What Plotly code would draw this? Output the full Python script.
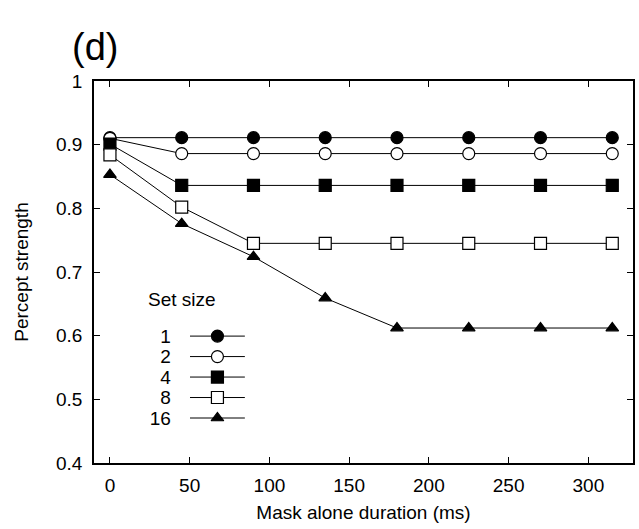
import plotly.graph_objects as go

durations = [0, 45, 90, 135, 180, 225, 270, 315]
set_sizes = ["1", "2", "4", "8", "16"]
strength_1 = [0.911, 0.911, 0.911, 0.911, 0.911, 0.911, 0.911, 0.911]
strength_2 = [0.910, 0.886, 0.886, 0.886, 0.886, 0.886, 0.886, 0.886]
strength_4 = [0.901, 0.836, 0.836, 0.836, 0.836, 0.836, 0.836, 0.836]
strength_8 = [0.884, 0.802, 0.745, 0.745, 0.745, 0.745, 0.745, 0.745]
strength_16 = [0.853, 0.776, 0.724, 0.659, 0.612, 0.612, 0.612, 0.612]

series = [strength_1, strength_2, strength_4, strength_8, strength_16]
styles = [
    dict(symbol="circle", size=12, color="black"),
    dict(symbol="circle", size=12, color="white"),
    dict(symbol="square", size=12, color="black"),
    dict(symbol="square", size=12, color="white"),
    dict(symbol="triangle-up", size=11, color="black"),
]

FONT = "Liberation Sans, Arial, Helvetica, sans-serif"
fig = go.Figure()

for name, vals, st in zip(set_sizes, series, styles):
    fig.add_trace(go.Scatter(
        x=durations, y=vals, mode="lines+markers", name=name,
        line=dict(color="black", width=1),
        marker=dict(symbol=st["symbol"], size=st["size"], color=st["color"],
                    line=dict(color="black", width=1.2)),
        cliponaxis=False, showlegend=False,
    ))

# legend drawn as a small inset subplot
for name, st in zip(set_sizes, styles):
    fig.add_trace(go.Scatter(
        x=[0, 1], y=[name, name], mode="lines", xaxis="x2", yaxis="y2",
        line=dict(color="black", width=1), showlegend=False, hoverinfo="skip",
    ))
    fig.add_trace(go.Scatter(
        x=[0.5], y=[name], mode="markers", xaxis="x2", yaxis="y2",
        marker=dict(symbol=st["symbol"], size=st["size"], color=st["color"],
                    line=dict(color="black", width=1.2)),
        cliponaxis=False, showlegend=False,
    ))

axis_common = dict(
    showline=True, linecolor="black", linewidth=1.5, mirror="ticks",
    ticks="inside", ticklen=6, tickcolor="black", tickwidth=1,
    showgrid=False, zeroline=False,
    tickfont=dict(family=FONT, size=19, color="black"),
)

fig.update_layout(
    width=639, height=529,
    margin=dict(l=94, r=6, t=81, b=66, autoexpand=False),
    paper_bgcolor="white", plot_bgcolor="white",
    font=dict(family=FONT, size=19, color="black"),
    xaxis=dict(
        range=[-10, 328], tickvals=[0, 50, 100, 150, 200, 250, 300],
        ticklabelstandoff=4,
        title=dict(text="Mask alone duration (ms)", standoff=11,
                   font=dict(family=FONT, size=19)),
        **axis_common,
    ),
    yaxis=dict(
        range=[0.4, 1.0], tickvals=[0.4, 0.5, 0.6, 0.7, 0.8, 0.9, 1.0],
        ticktext=["0.4", "0.5", "0.6", "0.7", "0.8", "0.9", "1"],
        ticklabelstandoff=6,
        title=dict(text="Percept strength", standoff=22,
                   font=dict(family=FONT, size=19)),
        **axis_common,
    ),
    xaxis2=dict(domain=[0.178, 0.280], anchor="y2", range=[0, 1],
                visible=False, fixedrange=True),
    yaxis2=dict(domain=[0.091, 0.359], anchor="x2", type="category",
                categoryorder="array", categoryarray=set_sizes[::-1],
                tickmode="array", tickvals=set_sizes, ticktext=set_sizes,
                range=[-0.5, 4.5], showline=False, showgrid=False,
                zeroline=False, ticks="", ticklabelstandoff=18,
                tickfont=dict(family=FONT, size=19, color="black")),
    annotations=[
        dict(text="Set size", xref="paper", yref="paper", x=0.163, y=0.427,
             showarrow=False, xanchor="center", yanchor="middle",
             font=dict(family=FONT, size=19)),
        dict(text="(d)", xref="paper", yref="paper", x=0.002, y=1.09,
             showarrow=False, xanchor="center", yanchor="middle",
             font=dict(family=FONT, size=38)),
    ],
)

fig.write_html(
    "out.html",
    config={"displayModeBar": False},
    post_script="document.body.style.margin='0';document.body.style.overflow='hidden';",
)
